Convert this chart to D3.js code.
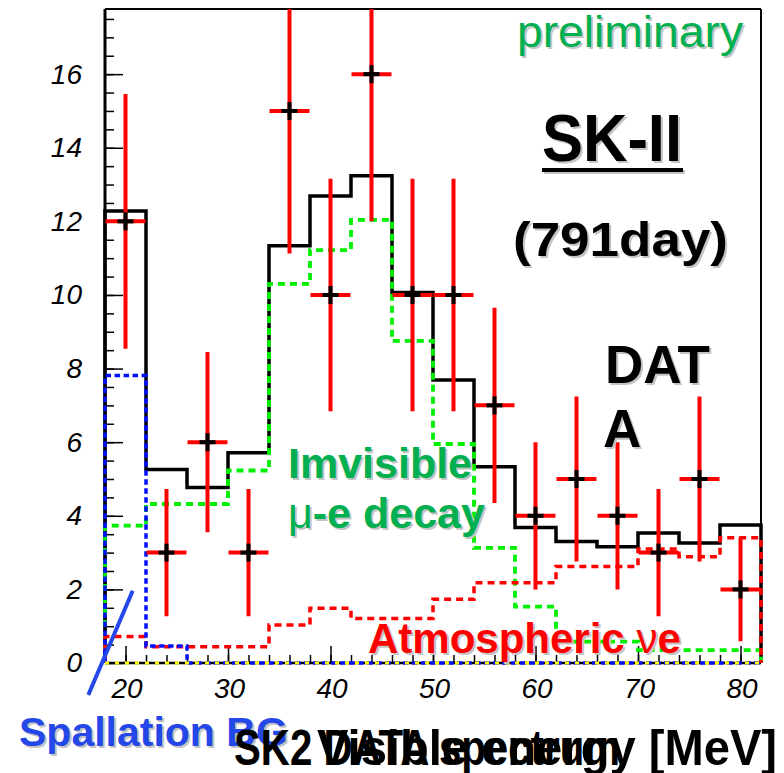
<!DOCTYPE html>
<html lang="en">
<head>
<meta charset="UTF-8">
<title>SK2 DATA spectrum</title>
<script src="https://d3js.org/d3.v7.min.js"></script>
<style>
    body { margin: 0; background: #fff; }
    svg { display: block; font-family: "Liberation Sans", Arial, sans-serif; }
    .axis text { font-style: italic; font-size: 28px; fill: #000; }
    .axis line { stroke: #000; stroke-width: 1.5; }
</style>
</head>
<body>
<div id="chart"></div>
<script>
// 4 MeV bins, lower edges
const binLow = [18, 22, 26, 30, 34, 38, 42, 46, 50, 54, 58, 62, 66, 70, 74, 78];
const binHigh = 82;

// SK-II data (events per bin) and errors
const dataCounts = [12, 3, 6, 3, 15, 10, 16, 10, 10, 7, 4, 5, 4, 3, 5, 2];
const dataErr = [3.46, 1.73, 2.45, 1.73, 3.87, 3.16, 4.0, 3.16, 3.16, 2.65, 2.0, 2.24, 2.0, 1.73, 2.24, 1.41];

// expectation histograms
const totalMC = [12.28, 5.26, 4.77, 5.71, 11.34, 12.69, 13.24, 10.07, 7.69, 5.33, 3.68, 3.30, 3.16, 3.53, 3.26, 3.75];
const invisibleMuE = [3.73, 4.32, 4.32, 5.23, 10.30, 11.22, 12.04, 8.75, 5.95, 3.13, 1.53, 0.58, 0.58, 0.35, 0.35, 0.35];
const atmNuE = [0.72, 0.44, 0.44, 0.44, 1.03, 1.49, 1.21, 1.21, 1.73, 2.18, 2.18, 2.62, 2.62, 3.10, 2.89, 3.40];
const spallation = [7.81, 0.46, 0, 0, 0, 0, 0, 0, 0, 0, 0, 0, 0, 0, 0, 0];
const otherBG = [0, 0, 0, 0, 0, 0, 0, 0, 0, 0, 0, 0, 0, 0, 0, 0];

const xTicks = [20, 30, 40, 50, 60, 70, 80];
const xMinorTicks = [20, 22, 24, 26, 28, 30, 32, 34, 36, 38, 40, 42, 44, 46, 48, 50, 52, 54, 56, 58, 60, 62, 64, 66, 68, 70, 72, 74, 76, 78, 80];
const yTicks = [0, 2, 4, 6, 8, 10, 12, 14, 16];
const yMinorTicks = [0.5, 1, 1.5, 2, 2.5, 3, 3.5, 4, 4.5, 5, 5.5, 6, 6.5, 7, 7.5, 8, 8.5, 9, 9.5, 10, 10.5, 11, 11.5, 12, 12.5, 13, 13.5, 14, 14.5, 15, 15.5, 16, 16.5, 17, 17.5];

const width = 784, height = 773;
const pLeft = 105, pRight = 761, pTop = 9, pBottom = 663;

const svg = d3.select("#chart").append("svg")
    .attr("width", width)
    .attr("height", height);

const x = d3.scaleLinear().domain([18, 82]).range([pLeft, pRight]);
const y = d3.scaleLinear().domain([0, 17.77]).range([pBottom, pTop]);

// clip only the top (error bars run off the frame), let edge strokes show
svg.append("defs").append("clipPath").attr("id", "plot")
    .append("rect")
    .attr("x", pLeft - 4).attr("y", pTop)
    .attr("width", pRight - pLeft + 8).attr("height", pBottom - pTop + 4);

// ticks
function ticks(axis, pos) {
    const g = svg.append("g").attr("class", "axis").attr("transform", pos).call(axis);
    g.select(".domain").remove();
    return g;
}
ticks(d3.axisRight(y).tickValues(yMinorTicks).tickSize(9).tickFormat(""), `translate(${pLeft},0)`);
ticks(d3.axisRight(y).tickValues(yTicks).tickSize(18).tickFormat(""), `translate(${pLeft},0)`);
ticks(d3.axisLeft(y).tickValues(yTicks).tickSize(0).tickPadding(23).tickFormat(d3.format("d")), `translate(${pLeft},0)`);
ticks(d3.axisTop(x).tickValues(xMinorTicks).tickSize(8).tickFormat(""), `translate(0,${pBottom})`);
ticks(d3.axisTop(x).tickValues(xTicks).tickSize(17).tickFormat(""), `translate(0,${pBottom})`);
ticks(d3.axisBottom(x).tickValues(xTicks).tickSize(0).tickPadding(15).tickFormat(d3.format("d")), `translate(1,${pBottom})`);

// frame
svg.append("line").attr("x1", pLeft).attr("x2", pLeft).attr("y1", pTop).attr("y2", pBottom)
    .attr("stroke", "#000").attr("stroke-width", 3);
svg.append("line").attr("x1", pLeft).attr("x2", pRight).attr("y1", pTop).attr("y2", pTop)
    .attr("stroke", "#000").attr("stroke-width", 2);
svg.append("line").attr("x1", pRight).attr("x2", pRight).attr("y1", pTop).attr("y2", pBottom)
    .attr("stroke", "#000").attr("stroke-width", 2);
svg.append("line").attr("x1", pLeft).attr("x2", pRight).attr("y1", pBottom).attr("y2", pBottom)
    .attr("stroke", "#000").attr("stroke-width", 2.5);

// histograms
const step = d3.line().x(d => x(d[0])).y(d => y(d[1])).curve(d3.curveStepAfter);
function histPoints(vals) {
    const pts = [[binLow[0], 0]];
    vals.forEach((v, i) => pts.push([binLow[i], v]));
    pts.push([binHigh, vals[vals.length - 1]]);
    pts.push([binHigh, 0]);
    return pts;
}
const plot = svg.append("g").attr("clip-path", "url(#plot)");
function hist(vals, color, dash, w) {
    plot.append("path")
        .attr("d", step(histPoints(vals)))
        .attr("fill", "none")
        .attr("stroke", color)
        .attr("stroke-width", w)
        .attr("stroke-dasharray", dash);
}
hist(totalMC, "#000", null, 3.5);
hist(invisibleMuE, "#00f000", "7,5", 3.8);
hist(atmNuE, "#ff0000", "7,5", 3.5);
hist(spallation, "#0010ff", "5.5,3.5", 3.5);
hist(otherBG, "#ffff00", "4,6", 3);

// data points
const pts = plot.selectAll(".pt")
    .data(dataCounts.map((v, i) => ({ c: binLow[i] + 2, v: v, e: dataErr[i] })))
    .enter().append("g").attr("class", "pt");
pts.append("line")
    .attr("x1", d => x(d.c)).attr("x2", d => x(d.c))
    .attr("y1", d => y(d.v - d.e)).attr("y2", d => y(d.v + d.e))
    .attr("stroke", "#ff0000").attr("stroke-width", 4);
pts.append("line")
    .attr("x1", d => x(d.c - 1.95)).attr("x2", d => x(d.c + 1.95))
    .attr("y1", d => y(d.v)).attr("y2", d => y(d.v))
    .attr("stroke", "#ff0000").attr("stroke-width", 4);
pts.append("line")
    .attr("x1", d => x(d.c) - 8).attr("x2", d => x(d.c) + 8)
    .attr("y1", d => y(d.v)).attr("y2", d => y(d.v))
    .attr("stroke", "#000").attr("stroke-width", 4);
pts.append("line")
    .attr("x1", d => x(d.c)).attr("x2", d => x(d.c))
    .attr("y1", d => y(d.v) - 9).attr("y2", d => y(d.v) + 9)
    .attr("stroke", "#000").attr("stroke-width", 4);

// annotations (with a soft drop shadow like the slide text)
function label(px, py, parts, size, color, opts = {}) {
    [["#c4c4c4", 2], [color, 0]].forEach(([fill, off]) => {
        const t = svg.append("text")
            .attr("x", px + off).attr("y", py + off)
            .attr("font-size", size)
            .attr("fill", fill);
        if (opts.len) t.attr("textLength", opts.len).attr("lengthAdjust", "spacingAndGlyphs");
        parts.forEach(p => {
            t.append("tspan")
                .attr("font-weight", p.bold === false ? "normal" : "bold")
                .text(p.t);
        });
    });
}

label(517, 47, [{ t: "preliminary", bold: false }], 44, "#00b050", { len: 226 });
label(542, 161, [{ t: "SK-II" }], 66, "#000", { len: 140 });
svg.append("rect").attr("x", 544).attr("y", 170).attr("width", 141).attr("height", 4).attr("fill", "#c4c4c4");
svg.append("rect").attr("x", 542).attr("y", 168).attr("width", 141).attr("height", 4).attr("fill", "#000");
label(513, 256, [{ t: "(791day)" }], 48, "#000", { len: 215 });
label(605, 383, [{ t: "DAT" }], 53, "#000");
label(603, 447, [{ t: "A" }], 53, "#000");
label(288, 478, [{ t: "Imvisible" }], 43, "#00b050");
label(288, 528, [{ t: "μ", bold: false }, { t: "-e decay" }], 43, "#00b050");
label(368, 653, [{ t: "Atmospheric " }, { t: "ν", bold: false }, { t: "e" }], 42, "#ff0000");
label(19, 746, [{ t: "Spallation BG" }], 41, "#2347e8");

// pointer line for spallation
svg.append("line")
    .attr("x1", 132.7).attr("y1", 590.7).attr("x2", 88.3).attr("y2", 695)
    .attr("stroke", "#2347e8").attr("stroke-width", 4);

// overlapping bottom titles
svg.append("text")
    .attr("x", 234).attr("y", 765)
    .attr("font-size", 50).attr("font-weight", "bold")
    .attr("textLength", 386).attr("lengthAdjust", "spacingAndGlyphs")
    .text("SK2 DATA spectrum");
svg.append("text")
    .attr("x", 317).attr("y", 765)
    .attr("font-size", 50).attr("font-weight", "bold")
    .attr("textLength", 460).attr("lengthAdjust", "spacingAndGlyphs")
    .text("Visible energy [MeV]");
</script>
</body>
</html>
